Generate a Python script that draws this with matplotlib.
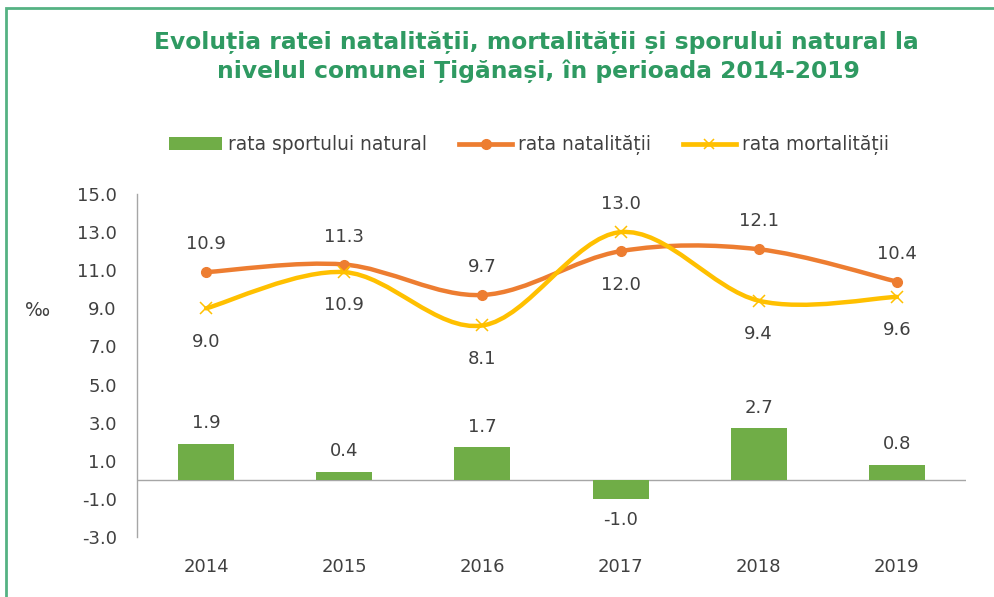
import matplotlib
matplotlib.use("Agg")
import matplotlib.pyplot as plt
import numpy as np
from matplotlib.path import Path
from matplotlib.patches import PathPatch, Rectangle
from matplotlib.lines import Line2D

years = ["2014", "2015", "2016", "2017", "2018", "2019"]
spor = [1.9, 0.4, 1.7, -1.0, 2.7, 0.8]
natalitate = [10.9, 11.3, 9.7, 12.0, 12.1, 10.4]
mortalitate = [9.0, 10.9, 8.1, 13.0, 9.4, 9.6]
yticks = [-3, -1, 1, 3, 5, 7, 9, 11, 13, 15]
title_lines = ["Evoluția ratei natalității, mortalității și sporului natural la",
               "nivelul comunei Țigănași, în perioada 2014-2019"]
legend_labels = ["rata sportului natural", "rata natalității", "rata mortalității"]

GREEN = "#70AD47"
ORANGE = "#ED7D31"
YELLOW = "#FFC000"
TXT = "#404040"
TITLE = "#2F9A62"
FS = 13

plt.rcParams['font.family'] = ['DejaVu Sans']

fig = plt.figure(figsize=(9.94, 5.97), dpi=100)
ax = fig.add_axes([137/994, 1-537/597, (966-137)/994, (537-194)/597])

x = np.arange(len(years))
ax.bar(x, spor, width=0.405, color=GREEN, zorder=2)


def smooth_path(xs, ys):
    pts = np.column_stack([xs, ys]).astype(float)
    n = len(pts)
    verts = [pts[0]]
    codes = [Path.MOVETO]
    for i in range(n - 1):
        p0 = pts[i - 1] if i > 0 else pts[i]
        p1 = pts[i]
        p2 = pts[i + 1]
        p3 = pts[i + 2] if i + 2 < n else pts[i + 1]
        c1 = p1 + (p2 - p0) / 6.0
        c2 = p2 - (p3 - p1) / 6.0
        verts += [c1, c2, p2]
        codes += [Path.CURVE4] * 3
    return Path(verts, codes)


for vals, col in [(natalitate, ORANGE), (mortalitate, YELLOW)]:
    pp = PathPatch(smooth_path(x, vals), facecolor="none", edgecolor=col,
                   lw=3.2, capstyle="round", joinstyle="round", zorder=3)
    ax.add_patch(pp)

ax.plot(x, natalitate, linestyle="none", marker="o", ms=7, color=ORANGE, zorder=4)
ax.plot(x, mortalitate, linestyle="none", marker="x", ms=8.5, mew=1.1, color=YELLOW, zorder=4)

# data labels
for i in range(len(years)):
    n_above = natalitate[i] >= mortalitate[i]
    ax.annotate(f"{natalitate[i]:.1f}", (x[i], natalitate[i]),
                xytext=(0, 20 if n_above else -24), textcoords="offset points",
                ha="center", va="center", fontsize=FS, color=TXT)
    ax.annotate(f"{mortalitate[i]:.1f}", (x[i], mortalitate[i]),
                xytext=(0, -24 if n_above else 20), textcoords="offset points",
                ha="center", va="center", fontsize=FS, color=TXT)
    ax.annotate(f"{spor[i]:.1f}", (x[i], spor[i]),
                xytext=(0, 15 if spor[i] >= 0 else -15), textcoords="offset points",
                ha="center", va="center", fontsize=FS, color=TXT)

ax.set_xlim(-0.5, len(years) - 0.5)
ax.set_ylim(-3, 15)
ax.set_yticks(yticks)
ax.set_yticklabels([f"{v:.1f}" for v in yticks], fontsize=FS, color=TXT)
ax.set_xticks(x)
ax.set_xticklabels(years, fontsize=FS, color=TXT)
ax.tick_params(axis="both", length=0)
ax.tick_params(axis="y", pad=14.5)
ax.tick_params(axis="x", pad=15)
for s in ["top", "right", "bottom"]:
    ax.spines[s].set_visible(False)
ax.spines["left"].set_color("#A6A6A6")
ax.spines["left"].set_linewidth(1.0)
ax.axhline(0, color="#A6A6A6", lw=1.0, zorder=1)

fig.text(38/994, 1-311/597, "‰", fontsize=13.5, color=TXT, ha="center", va="center")

fig.text(536/994, 1-49/597, title_lines[0], ha="center", va="baseline",
         fontsize=16.8, fontweight="bold", color=TITLE)
fig.text(538/994, 1-78/597, title_lines[1], ha="center", va="baseline",
         fontsize=16.8, fontweight="bold", color=TITLE)

handles = [
    Rectangle((0, 0), 1, 1, facecolor=GREEN),
    Line2D([], [], color=ORANGE, lw=3.4, marker="o", ms=7),
    Line2D([], [], color=YELLOW, lw=3.4, marker="x", ms=7, mew=1.1),
]
fig.legend(handles, legend_labels, loc="center", bbox_to_anchor=(529/994, 1-145/597),
           ncol=3, frameon=False, fontsize=13.4, labelcolor=TXT,
           handlelength=2.85, handletextpad=0.32, columnspacing=1.7,
           handleheight=0.65)

# figure frame
fig.add_artist(Rectangle((6/994, -0.1), 1.2, (597-8)/597 + 0.1,
                         transform=fig.transFigure, fill=False,
                         edgecolor="#55B283", lw=2))

fig.savefig("out.png", dpi=100)
